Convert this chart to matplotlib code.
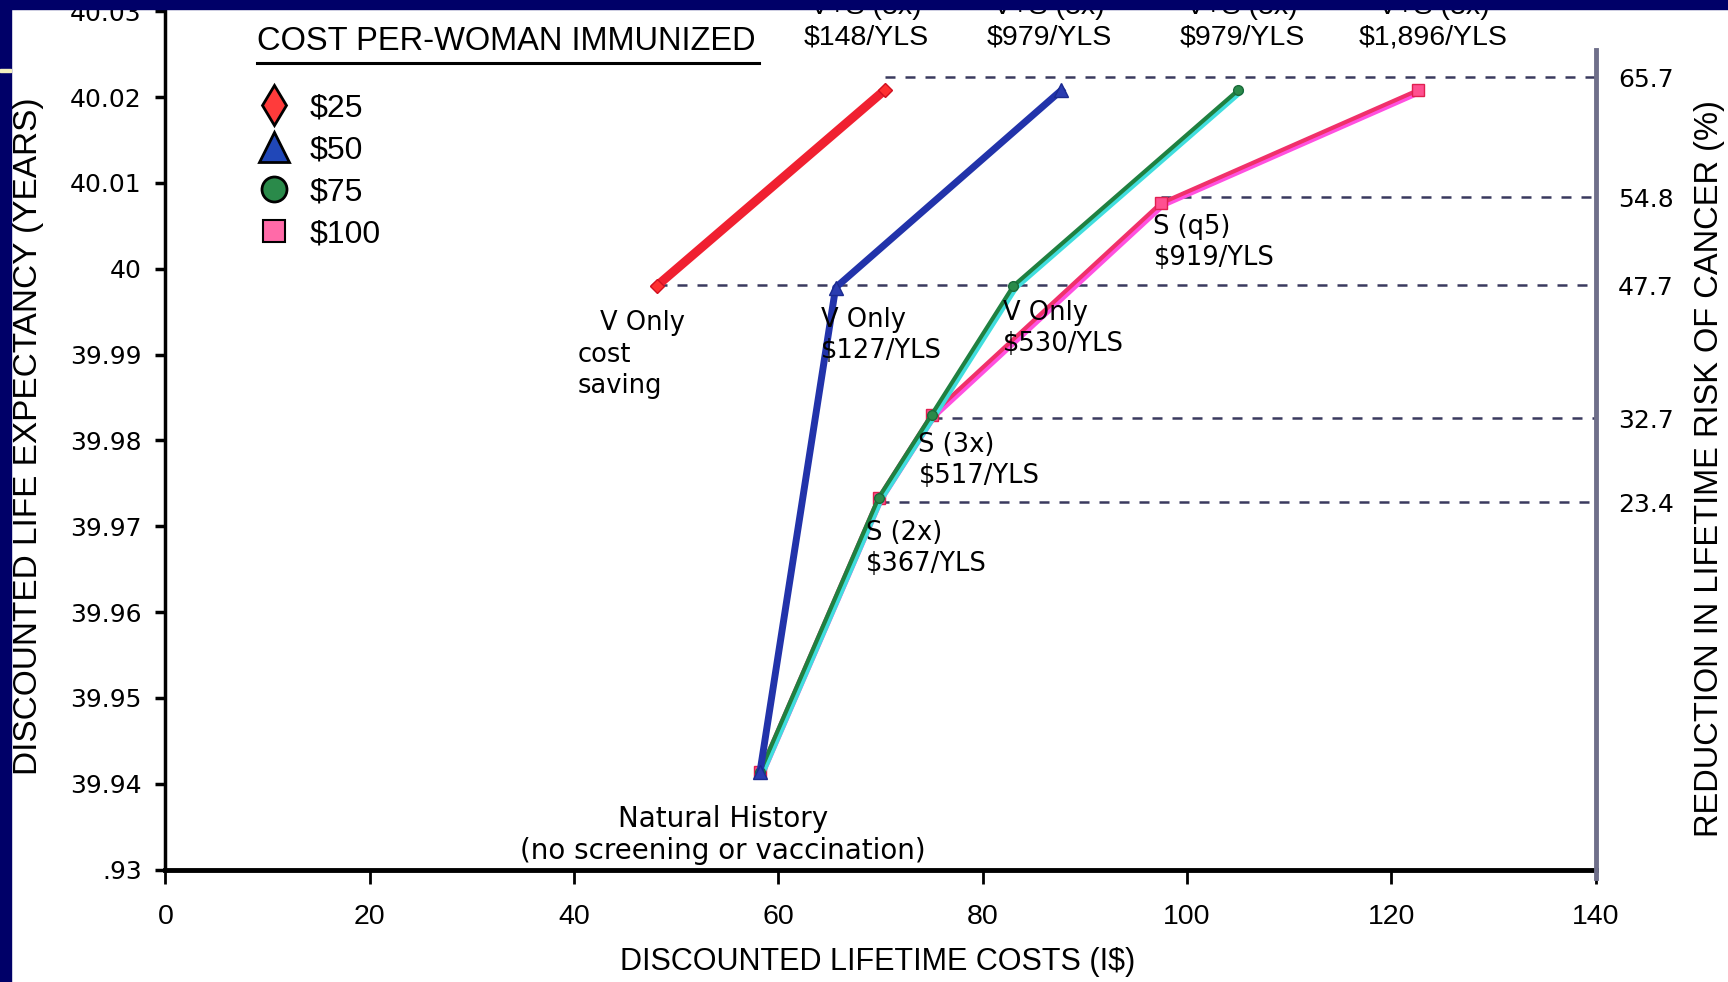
import matplotlib
matplotlib.use("Agg")
import matplotlib.pyplot as plt
from matplotlib.lines import Line2D
from matplotlib.patches import Rectangle
from matplotlib.transforms import offset_copy

# Cost-effectiveness of HPV vaccination / screening by cost per woman immunized
red_x = [48.1, 70.4]
red_y = [39.9980, 40.0208]
blue_x = [58.2, 65.6, 87.7]
blue_y = [39.9414, 39.9978, 40.0208]
green_x = [58.2, 69.8, 75.0, 83.0, 105.0]
green_y = [39.9414, 39.9733, 39.9830, 39.9980, 40.0208]
pink_x = [58.2, 69.8, 75.0, 97.4, 122.6]
pink_y = [39.9414, 39.9733, 39.9830, 40.0076, 40.0208]

legend_labels = ["\\$25", "\\$50", "\\$75", "\\$100"]

# right-hand axis: reduction in lifetime risk of cancer (%)
risk_labels = ["65.7", "54.8", "47.7", "32.7", "23.4"]
risk_y = [40.0223, 40.0083, 39.9981, 39.9826, 39.9728]
risk_start = [70.4, 97.4, 48.1, 75.0, 69.8]

yticks = [39.93, 39.94, 39.95, 39.96, 39.97, 39.98, 39.99, 40.00, 40.01, 40.02, 40.03]
ytick_labels = [".93", "39.94", "39.95", "39.96", "39.97", "39.98", "39.99", "40", "40.01", "40.02", "40.03"]
xticks = [0, 20, 40, 60, 80, 100, 120, 140]

# point labels (text, x, y)
notes = [
    ("V Only", 42.5, 39.9937),
    ("cost\nsaving", 40.3, 39.9881),
    ("V Only\n\\$127/YLS", 64.2, 39.9922),
    ("V Only\n\\$530/YLS", 82.0, 39.9930),
    ("S (3x)\n\\$517/YLS", 73.7, 39.9776),
    ("S (2x)\n\\$367/YLS", 68.6, 39.9674),
    ("S (q5)\n\\$919/YLS", 96.7, 40.0030),
]
top_notes = [
    ("V+S (3x)\n\\$148/YLS", 68.6),
    ("V+S (3x)\n\\$979/YLS", 86.5),
    ("V+S (3x)\n\\$979/YLS", 105.4),
    ("V+S (3x)\n\\$1,896/YLS", 124.1),
]

narrow = ["Liberation Sans", "DejaVu Sans"]
navy = "#000068"

fig = plt.figure(figsize=(17.28, 9.82), dpi=100, facecolor="white")
ax = fig.add_axes([0.0957, 0.1145, 0.8278, 0.8741])
ax.set_xlim(0, 140)
ax.set_ylim(39.93, 40.03)

# dashed guides to the right axis
ax.hlines(risk_y, risk_start, 140, colors="#3a3a5e", linestyles=(0, (4, 4)), lw=1.8, zorder=1)

shift = offset_copy(ax.transData, fig=fig, x=3, y=-2, units="dots")

ax.plot(pink_x, pink_y, color="#ff50e0", lw=3.2, transform=shift, zorder=2)
ax.plot(pink_x, pink_y, color="#f0306a", lw=3, marker="s", ms=9,
        mfc="#ff5090", mec="#e02050", zorder=3)
ax.plot(green_x, green_y, color="#40dede", lw=3, transform=shift, zorder=4)
ax.plot(green_x, green_y, color="#1f8040", lw=3, marker="o", ms=7,
        mfc="#2a8a4a", mec="#1a6a3a", zorder=5)
ax.plot(blue_x, blue_y, color="#2233aa", lw=5, marker="^", ms=10,
        mfc="#2a3cb0", mec="#1a2a90", zorder=6)
ax.plot(red_x, red_y, color="#f02030", lw=6.5, marker="D", ms=7,
        mfc="#ff3030", mec="#d01020", zorder=7)

for txt, x, y in notes:
    ax.text(x, y, txt, fontsize=18.5, ha="left", va="center", linespacing=1.25, zorder=8)
ax.text(54.6, 39.9340, "Natural History\n(no screening or vaccination)", fontsize=20,
        ha="center", va="center", linespacing=1.2, zorder=8)
for txt, x in top_notes:
    ax.text(x, 40.0287, txt, fontsize=20.5, family=narrow, ha="center", va="center",
            linespacing=1.2)

# legend
handles = [
    Line2D([], [], ls="none", marker="d", ms=20, mfc="#ff3b3b", mec="black", mew=2),
    Line2D([], [], ls="none", marker="^", ms=21, mfc="#2047b8", mec="black", mew=2),
    Line2D([], [], ls="none", marker="o", ms=18, mfc="#2a8a4a", mec="black", mew=2),
    Line2D([], [], ls="none", marker="s", ms=16, mfc="#ff6aa8", mec="black", mew=1.5),
]
leg = ax.legend(handles, legend_labels, loc="upper left", bbox_to_anchor=(0.1403, 0.9212),
                bbox_transform=fig.transFigure, frameon=False, handlelength=1.0,
                handletextpad=0.6, labelspacing=0.375, borderpad=0,
                prop={"family": narrow, "size": 23})

ax.text(0.0643, 0.965, "COST PER-WOMAN IMMUNIZED", transform=ax.transAxes, fontsize=23.5,
        family=narrow, ha="left", va="center")
ax.plot([0.0643, 0.4148], [0.9395, 0.9395], transform=ax.transAxes, color="black",
        lw=2.2, clip_on=False)

# axes styling
for side in ["top", "right"]:
    ax.spines[side].set_visible(False)
ax.spines["left"].set_linewidth(2.5)
ax.spines["bottom"].set_linewidth(3.5)
ax.set_yticks(yticks, labels=ytick_labels)
ax.set_xticks(xticks)
ax.tick_params(axis="y", direction="out", length=7, width=2.5, pad=10, labelsize=18)
ax.tick_params(axis="x", direction="out", length=10, width=2, pad=15, labelsize=20.5)
for lab in ax.get_xticklabels():
    lab.set_family(narrow)

ax.set_xlabel("DISCOUNTED LIFETIME COSTS (I\\$)", fontsize=22, family=narrow, va="center")
ax.xaxis.set_label_coords(0.4982, -0.1076)
ax.set_ylabel("DISCOUNTED LIFE EXPECTANCY (YEARS)", fontsize=24, family=narrow, va="center")
ax.yaxis.set_label_coords(-0.096, 0.505)

ax2 = ax.twinx()
ax2.set_ylim(ax.get_ylim())
for side in ["top", "left", "bottom"]:
    ax2.spines[side].set_visible(False)
ax2.spines["right"].set_bounds(39.929, 40.0255)
ax2.spines["right"].set_color("#6f6f8a")
ax2.spines["right"].set_linewidth(3.5)
ax2.set_yticks(risk_y, labels=risk_labels)
ax2.tick_params(axis="y", length=0, pad=16, labelsize=18)
ax2.set_ylabel("REDUCTION IN LIFETIME RISK OF CANCER (%)", fontsize=23.5, family=narrow,
               va="center")
ax2.yaxis.set_label_coords(1.0798, 0.4667)

# slide frame
fig.add_artist(Rectangle((0, 1 - 9 / 982), 1, 9 / 982, transform=fig.transFigure,
                         color=navy, zorder=20))
fig.add_artist(Rectangle((0, 0), 11 / 1728, 1, transform=fig.transFigure,
                         color=navy, zorder=20))
fig.add_artist(Rectangle((0, 1 - 72 / 982), 11 / 1728, 3 / 982, transform=fig.transFigure,
                         color="#f4f0c0", zorder=21))

fig.savefig("out.png", dpi=100, facecolor="white")
